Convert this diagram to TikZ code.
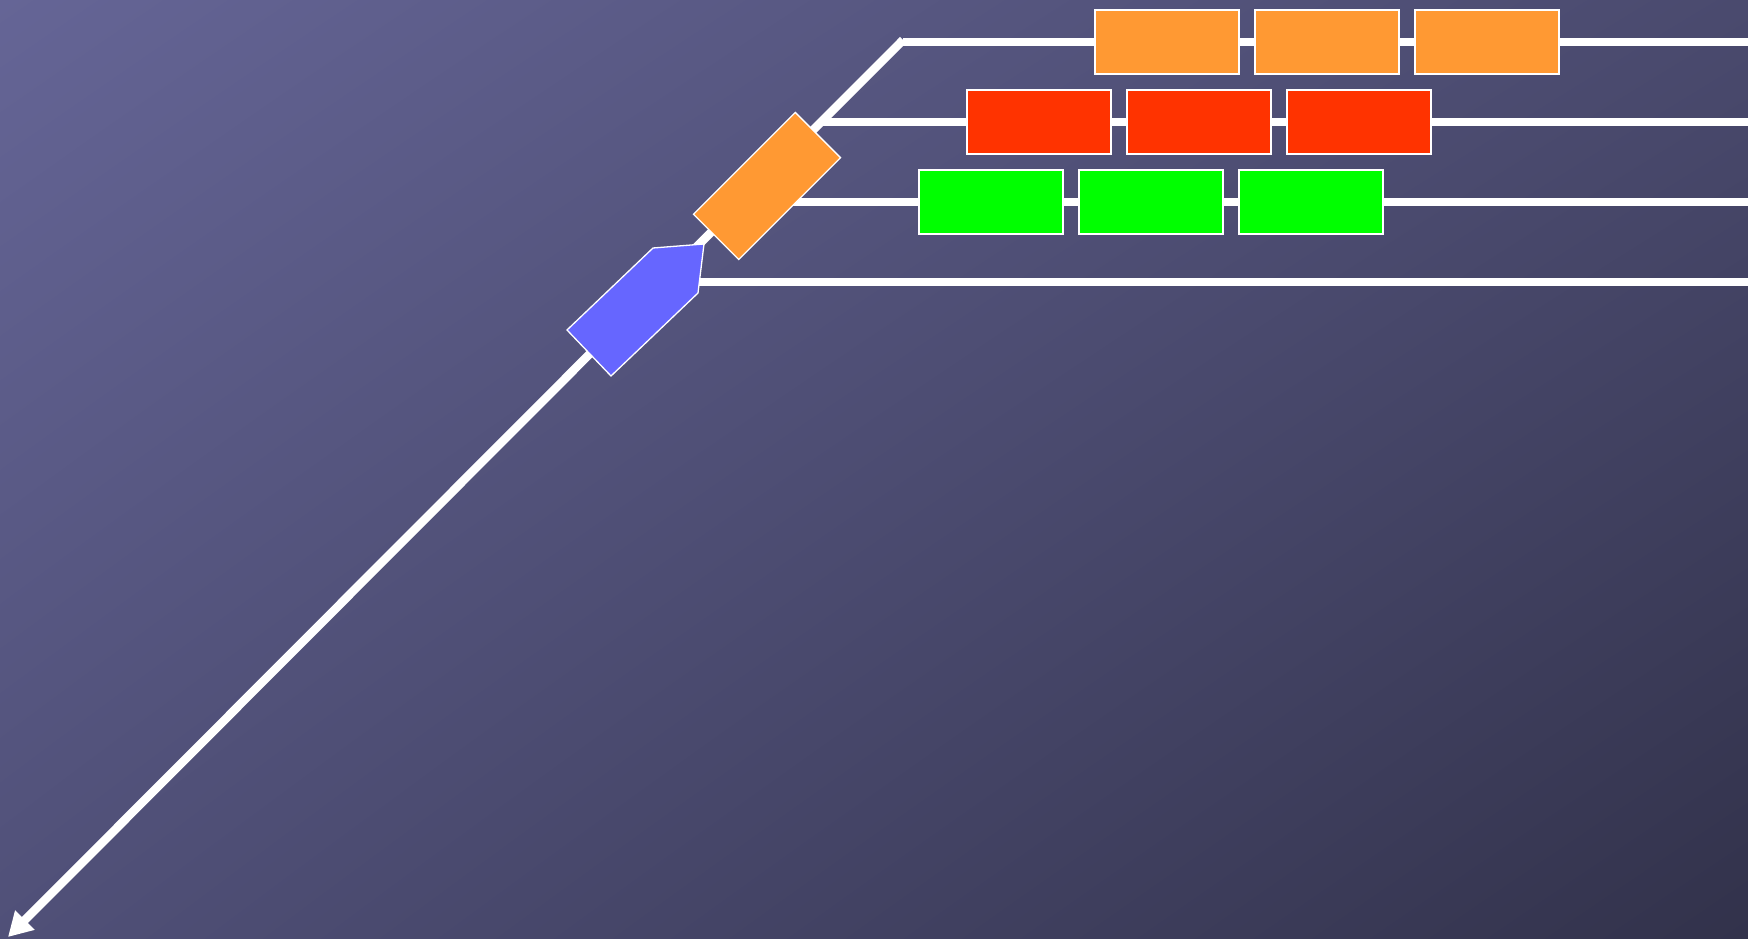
\documentclass[tikz,border=0pt]{standalone}
\usetikzlibrary{arrows.meta,shadings}
\definecolor{bgTL}{HTML}{656596}
\definecolor{bgTR}{HTML}{4A4A6E}
\definecolor{bgBL}{HTML}{505078}
\definecolor{bgBR}{HTML}{32324B}
\definecolor{cOrange}{HTML}{FF9933}
\definecolor{cRed}{HTML}{FF3300}
\definecolor{cGreen}{HTML}{00FF00}
\definecolor{cBlue}{HTML}{6666FF}
\tikzset{
  track/.style={draw=white, line width=8.5pt},
  slot/.style={draw=white, line width=1.3pt, minimum width=144pt, minimum height=64pt, inner sep=0pt, outer sep=0pt},
  obox/.style={slot, fill=cOrange},
  rbox/.style={slot, fill=cRed},
  gbox/.style={slot, fill=cGreen},
}
\begin{document}
\begin{tikzpicture}[x=1pt,y=1pt]
\useasboundingbox (0,0) rectangle (1748,938);
\shade[upper left=bgTL, upper right=bgTR, lower left=bgBL, lower right=bgBR] (0,0) rectangle (1748,938);
% coordinates
\coordinate (top) at (903,898);
\coordinate (tip) at (8,1);
\coordinate (j1) at (903,896);
\coordinate (j2) at (821,816);
\coordinate (j3) at (741,736);
\coordinate (j4) at (661,656);
\coordinate (e1) at (1748,896);
\coordinate (e2) at (1748,816);
\coordinate (e3) at (1748,736);
\coordinate (e4) at (1748,656);
% tracks
\draw[track] (j1) -- (e1);
\draw[track] (j2) -- (e2);
\draw[track] (j3) -- (e3);
\draw[track] (j4) -- (e4);
\draw[track, -{Triangle[length=24pt,width=26pt]}] (top) -- (tip);
% rotated orange box on the diagonal
\node[obox, rotate=45] (mover) at (767,752) {};
% blue pentagon
\filldraw[fill=cBlue, draw=white, line width=1.3pt, line join=miter]
  (567,608) -- (611,562) -- (698,645) -- (704,694) -- (653,690) -- cycle;
% rows of boxes
\node[obox] (o1) at (1167,896) {};
\node[obox] (o2) at (1327,896) {};
\node[obox] (o3) at (1487,896) {};
\node[rbox] (r1) at (1039,816) {};
\node[rbox] (r2) at (1199,816) {};
\node[rbox] (r3) at (1359,816) {};
\node[gbox] (g1) at (991,736) {};
\node[gbox] (g2) at (1151,736) {};
\node[gbox] (g3) at (1311,736) {};
\end{tikzpicture}
\end{document}
